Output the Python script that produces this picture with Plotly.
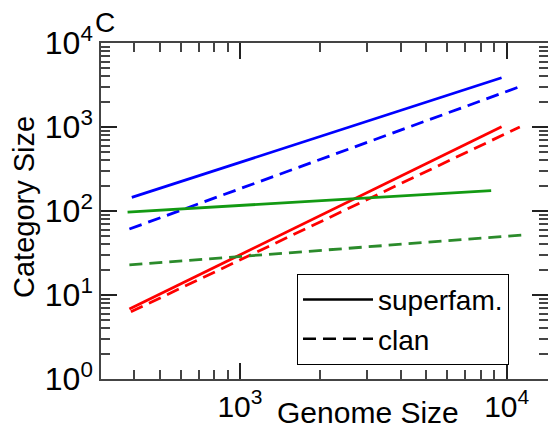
import plotly.graph_objects as go

# Genome size (x) and category size (y) endpoints of the fitted power laws
blue_superfam_x = [393, 9570]
blue_superfam_y = [145, 3860]
blue_clan_x = [385, 11200]
blue_clan_y = [61, 3020]
red_superfam_x = [385, 9570]
red_superfam_y = [6.8, 1010]
red_clan_x = [390, 11200]
red_clan_y = [6.3, 1000]
green_superfam_x = [379, 8750]
green_superfam_y = [97, 175]
green_clan_x = [385, 11500]
green_clan_y = [22.8, 51.8]

x_major = [1000, 10000]
x_major_text = ["10<sup>3</sup>", "10<sup>4</sup>"]
y_major = [1, 10, 100, 1000, 10000]
y_major_text = ["10<sup>0</sup>", "10<sup>1</sup>", "10<sup>2</sup>", "10<sup>3</sup>", "10<sup>4</sup>"]
x_minor = [400, 500, 600, 700, 800, 900, 2000, 3000, 4000, 5000, 6000, 7000, 8000, 9000]
y_minor = [m * d for d in [1, 10, 100, 1000] for m in range(2, 10)]

legend_names = ["superfam.", "clan"]

FONT = "Liberation Sans, Arial, sans-serif"
DASH = "13px,7px"

fig = go.Figure()
series = [
    (blue_superfam_x, blue_superfam_y, "#0000ff", "solid"),
    (blue_clan_x, blue_clan_y, "#0000ff", DASH),
    (red_superfam_x, red_superfam_y, "#ff0000", "solid"),
    (red_clan_x, red_clan_y, "#ff0000", DASH),
    (green_superfam_x, green_superfam_y, "#139a13", "solid"),
    (green_clan_x, green_clan_y, "#2b8b2b", DASH),
]
for xs, ys, col, dash in series:
    fig.add_trace(go.Scatter(x=xs, y=ys, mode="lines", showlegend=False,
                             line=dict(color=col, width=2.8, dash=dash)))

for name, dash in zip(legend_names, ["solid", DASH]):
    fig.add_trace(go.Scatter(x=[None], y=[None], mode="lines", name=name,
                             line=dict(color="black", width=2.5, dash=dash)))

axis_common = dict(
    type="log", showgrid=False, zeroline=False, showline=True, automargin=False,
    linecolor="#444", linewidth=1.5, mirror="ticks",
    ticks="inside", ticklen=16, tickwidth=1.5, tickcolor="#222",
    tickmode="array",
)
fig.update_xaxes(**axis_common, range=[2.479, 4.155],
                 tickvals=x_major, ticktext=x_major_text,
                 tickfont=dict(family=FONT, size=30, color="black"),
                 minor=dict(tickmode="array", tickvals=x_minor, ticks="inside",
                            ticklen=9, tickwidth=1.5, tickcolor="#444"))
fig.update_yaxes(**axis_common, range=[0, 4],
                 tickvals=y_major, ticktext=y_major_text,
                 tickfont=dict(family=FONT, size=32, color="black"),
                 minor=dict(tickmode="array", tickvals=y_minor, ticks="inside",
                            ticklen=9, tickwidth=1.5, tickcolor="#444"))

fig.update_layout(
    width=548, height=424,
    margin=dict(l=101, r=0, t=43, b=45),
    paper_bgcolor="white", plot_bgcolor="white",
    font=dict(family=FONT, color="black"),
    legend=dict(x=0.4385, y=0.178, xanchor="left", yanchor="middle",
                bordercolor="black", borderwidth=1, bgcolor="white",
                font=dict(family=FONT, size=28), itemwidth=70,
                entrywidth=233, entrywidthmode="pixels"),
    annotations=[
        dict(text="C", xref="paper", yref="paper", x=-0.017, y=1.0, yshift=3,
             xanchor="left", yanchor="bottom", showarrow=False,
             font=dict(family=FONT, size=28)),
        dict(text="Genome Size", xref="paper", yref="paper", x=0.5, xshift=43,
             y=0, yshift=-33, xanchor="center", yanchor="middle", showarrow=False,
             font=dict(family=FONT, size=30)),
        dict(text="Category Size", xref="paper", yref="paper", x=0, xshift=-77,
             y=0.5, yshift=4, xanchor="center", yanchor="middle", showarrow=False,
             textangle=-90, font=dict(family=FONT, size=29)),
    ],
)

fig.write_html("out.html", config={"displayModeBar": False},
               post_script="document.body.style.margin='0px';")
